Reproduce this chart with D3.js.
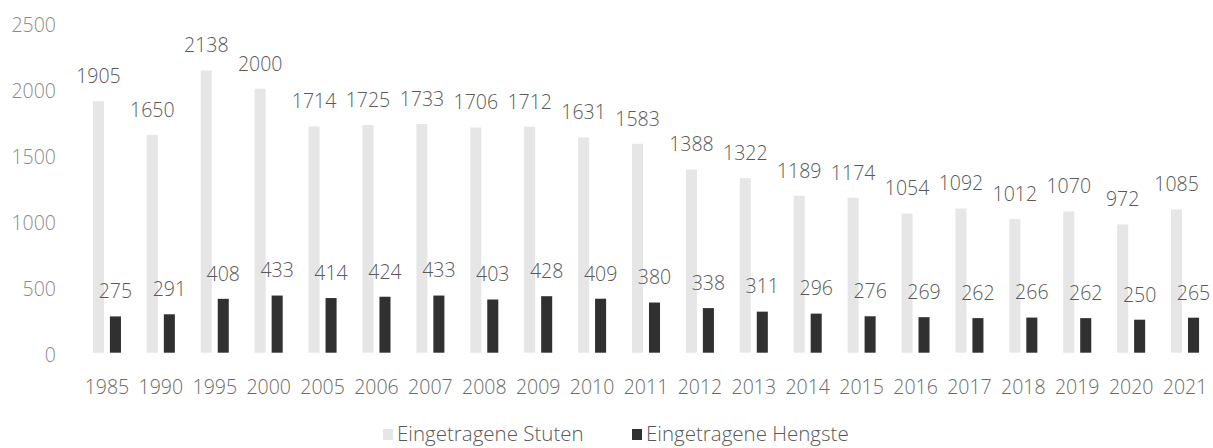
<!DOCTYPE html>
<html>
<head>
<meta charset="utf-8">
<script src="https://cdn.jsdelivr.net/npm/d3@7"></script>
<style>
  body { margin: 0; background: #fff; }
  svg { display: block; }
  text { font-family: "Open Sans", Lato, sans-serif; font-weight: 300; }
</style>
</head>
<body>
<svg id="chart" width="1213" height="448"></svg>
<script>
const years = ["1985","1990","1995","2000","2005","2006","2007","2008","2009","2010","2011","2012","2013","2014","2015","2016","2017","2018","2019","2020","2021"]
const stuten = [1905,1650,2138,2000,1714,1725,1733,1706,1712,1631,1583,1388,1322,1189,1174,1054,1092,1012,1070,972,1085]
const hengste = [275,291,408,433,414,424,433,403,428,409,380,338,311,296,276,269,262,266,262,250,265]
const seriesNames = ["Eingetragene Stuten", "Eingetragene Hengste"]
const yTicks = [0,500,1000,1500,2000,2500]

const svg = d3.select("#chart")
const colors = ["#e6e6e6", "#303030"]
const fontSize = "19.5px"

const x = d3.scaleBand().domain(years).range([80, 1212]).paddingInner(0.48).paddingOuter(0.24)
const xs = d3.scaleBand().domain([0, 1]).range([0, x.bandwidth()]).paddingInner(0.35)
const y = d3.scaleLinear().domain([0, 2500]).range([352.7, 22.7])

// y axis labels only
const yAxis = svg.append("g")
  .attr("transform", "translate(56,2)")
  .call(d3.axisLeft(y).tickValues(yTicks).tickFormat(d3.format("d")).tickSize(0).tickPadding(0))
yAxis.select(".domain").remove()
yAxis.selectAll("text")
  .attr("dy", "0.35em")
  .attr("fill", "#8a8a8a")
  .style("font-size", fontSize)
  .style("font-family", "'Open Sans', sans-serif")

const rows = years.map((yr, i) => ({ year: yr, vals: [stuten[i], hengste[i]] }))

const groups = svg.append("g").selectAll("g")
  .data(rows)
  .join("g")
  .attr("transform", d => `translate(${x(d.year)},0)`)

groups.selectAll("rect")
  .data(d => d.vals.map((v, k) => ({ v, k })))
  .join("rect")
  .attr("x", d => xs(d.k))
  .attr("width", xs.bandwidth())
  .attr("y", d => y(d.v))
  .attr("height", d => y(0) - y(d.v))
  .attr("fill", d => colors[d.k])

groups.selectAll("text.lbl")
  .data(d => d.vals.map((v, k) => ({ v, k })))
  .join("text")
  .attr("class", "lbl")
  .attr("x", d => xs(d.k) + xs.bandwidth() / 2)
  .attr("y", d => y(d.v) - 25)
  .attr("dy", "0.35em")
  .attr("text-anchor", "middle")
  .attr("fill", "#595959")
  .style("font-size", fontSize)
  .text(d => d.v)

// x axis labels
const xAxis = svg.append("g")
  .attr("transform", `translate(0,${y(0)})`)
  .call(d3.axisBottom(x).tickSize(0).tickPadding(0))
xAxis.select(".domain").remove()
xAxis.selectAll("text")
  .attr("y", 34)
  .attr("dy", "0.35em")
  .attr("fill", "#6a6a6a")
  .style("font-size", fontSize)
  .style("font-family", "'Open Sans', sans-serif")

// legend
const legend = svg.append("g").attr("transform", "translate(383,434)")
const items = [{ name: seriesNames[0], x: 0 }, { name: seriesNames[1], x: 249 }]
items.forEach((it, k) => {
  const g = legend.append("g").attr("transform", `translate(${it.x},0)`)
  g.append("rect").attr("x", 0).attr("y", -5).attr("width", 10).attr("height", 11).attr("fill", colors[k])
  g.append("text").attr("x", 14).attr("dy", "0.35em")
    .attr("fill", "#595959")
    .style("font-size", "20.5px")
    .text(it.name)
})
</script>
</body>
</html>
